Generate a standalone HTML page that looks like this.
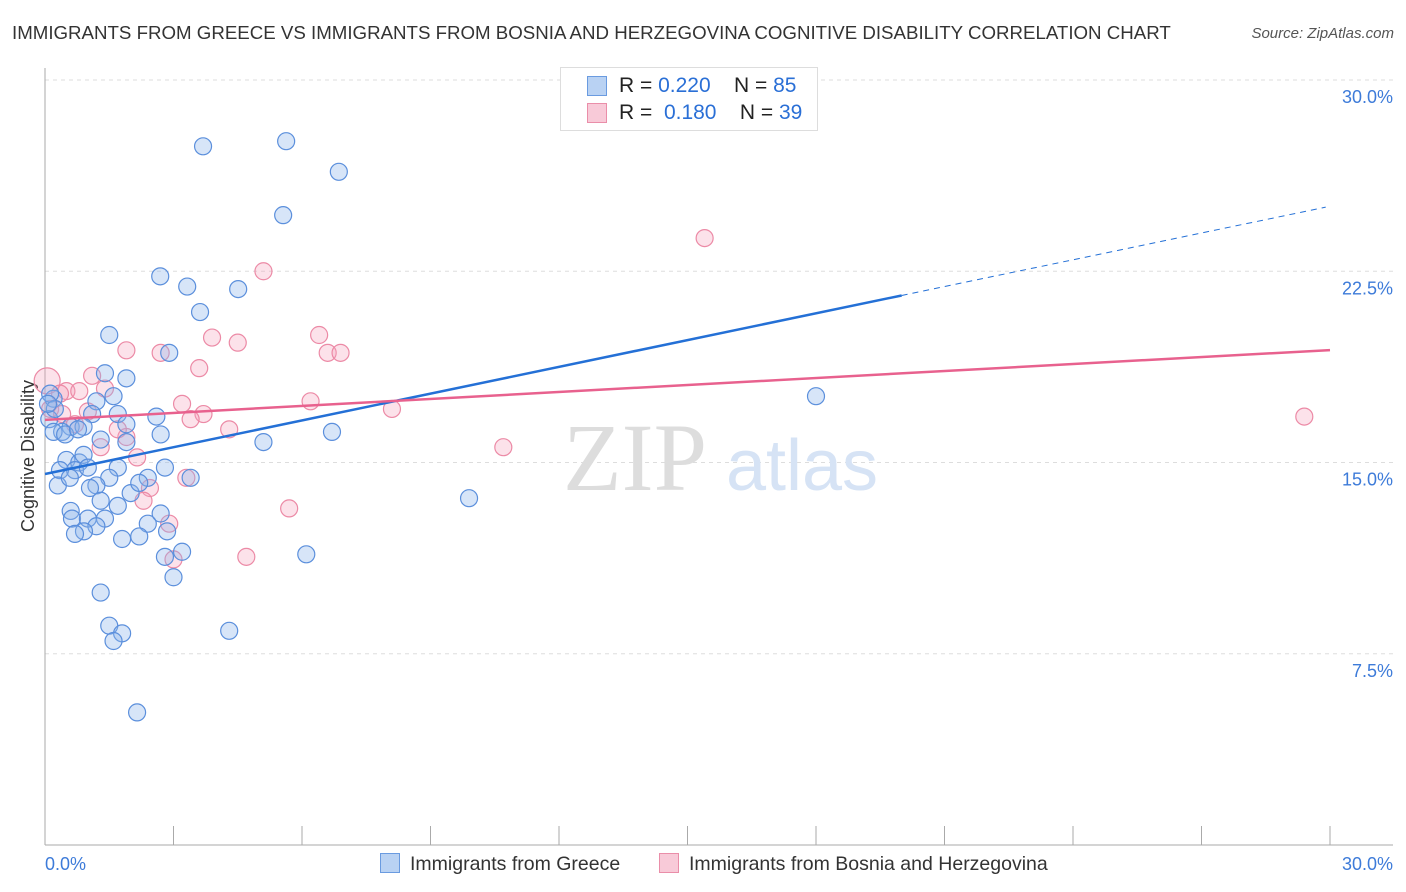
<!DOCTYPE html>
<html><head><meta charset="utf-8"><style>
body{margin:0;background:#fff;font-family:"Liberation Sans",sans-serif;}
#wrap{position:relative;width:1406px;height:892px;overflow:hidden;}
.t{position:absolute;white-space:nowrap;}
</style></head><body>
<div id="wrap">
<div class="t" style="left:12px;top:22px;font-size:18.7px;color:#333;">IMMIGRANTS FROM GREECE VS IMMIGRANTS FROM BOSNIA AND HERZEGOVINA COGNITIVE DISABILITY CORRELATION CHART</div>
<div class="t" style="right:12px;top:25px;font-size:15px;color:#555;font-style:italic;">Source: ZipAtlas.com</div>
<svg id="plot" width="1406" height="892" style="position:absolute;left:0;top:0"></svg>
</div>
<script>
const yTicks=[7.5,15,22.5,30];
const xTickLabels=["0.0%","30.0%"];
const greeceX=[3.69,5.63,6.86,5.56,2.69,3.32,4.51,3.62,1.5,2.9,1.4,1.9,18.0,0.2,1.6,1.2,1.7,2.6,1.1,0.1,1.9,0.6,0.4,0.2,0.9,2.7,1.3,1.9,5.1,6.7,0.5,0.8,0.9,0.7,0.35,0.3,1.0,1.7,2.8,2.4,1.5,3.4,1.2,1.05,2.0,1.3,1.7,9.9,0.6,0.63,1.0,1.4,2.7,2.4,1.2,0.91,0.7,2.85,1.8,2.2,2.8,3.2,6.1,3.0,1.3,1.5,1.8,1.6,4.3,2.15,0.12,0.23,0.07,0.47,0.77,0.58,2.2];
const greeceY=[27.4,27.6,26.4,24.7,22.3,21.9,21.8,20.9,20.0,19.3,18.5,18.3,17.6,17.5,17.6,17.4,16.9,16.8,16.9,16.7,16.5,16.4,16.2,16.2,16.4,16.1,15.9,15.8,15.8,16.2,15.1,15.0,15.3,14.7,14.7,14.1,14.8,14.8,14.8,14.4,14.4,14.4,14.1,14.0,13.8,13.5,13.3,13.6,13.1,12.8,12.8,12.8,13.0,12.6,12.5,12.3,12.2,12.3,12.0,12.1,11.3,11.5,11.4,10.5,9.9,8.6,8.3,8.0,8.4,5.2,17.7,17.1,17.3,16.1,16.3,14.4,14.2];
const bosniaX=[0.05,15.4,5.1,3.9,4.5,6.4,1.9,2.7,6.6,6.9,3.6,1.1,1.4,0.5,0.8,6.2,3.2,3.7,3.4,8.1,29.4,4.3,0.12,0.4,0.7,1.3,1.9,2.15,10.7,1.7,2.45,2.3,3.3,2.9,5.7,4.7,3.0,0.35,1.0];
const bosniaY=[18.2,23.8,22.5,19.9,19.7,20.0,19.4,19.3,19.3,19.3,18.7,18.4,17.9,17.8,17.8,17.4,17.3,16.9,16.7,17.1,16.8,16.3,17.1,16.9,16.5,15.6,16.0,15.2,15.6,16.3,14.0,13.5,14.4,12.6,13.2,11.3,11.2,17.7,17.0];
const trendGreece=[14.55,0.35];
const trendBosnia=[16.67,0.0913];
const X0=45,X1=1330,Y0=845,Y30=80;
const sx=v=>X0+(v/30)*(X1-X0);
const sy=v=>Y0-(v/30)*(Y0-Y30);
const svg=document.getElementById('plot');const NS='http://www.w3.org/2000/svg';
function mk(tag,attrs,parent){const e=document.createElementNS(NS,tag);for(const k in attrs)e.setAttribute(k,attrs[k]);(parent||svg).appendChild(e);return e;}
yTicks.forEach(v=>{
 const g=mk('line',{x1:45,x2:1393,y1:sy(v),y2:sy(v),stroke:'#ddd','stroke-dasharray':'4,4'});
 
 
 const t=mk('text',{x:1393,y:sy(v)+23,'text-anchor':'end','font-size':'18',fill:'#3d7bd9','font-family':'Liberation Sans'});
 t.textContent=v.toFixed(1)+'%';
 
 
});
const ax=mk('line',{x1:45,x2:45,y1:68,y2:845,stroke:'#aaa'});


const bx=mk('line',{x1:45,x2:1393,y1:845,y2:845,stroke:'#aaa'});


for(let i=0;i<=10;i++){const tk=mk('line',{x1:sx(i*3),x2:sx(i*3),y1:826,y2:845,stroke:'#aaa'});
 
 }
[[45,'start',0],[1393,'end',1]].forEach(([x,a,i])=>{const t=mk('text',{x:x,y:870,'text-anchor':a,'font-size':'18',fill:'#3d7bd9','font-family':'Liberation Sans'});t.textContent=xTickLabels[i];
 
 });
const yl=mk('text',{x:0,y:0,transform:'translate(34,456) rotate(-90)','text-anchor':'middle','font-size':'18',fill:'#333','font-family':'Liberation Sans'});yl.textContent='Cognitive Disability';


const w1=mk('text',{x:635,y:490,'text-anchor':'middle','font-size':'96',fill:'#ddd','font-family':'Liberation Serif'});w1.textContent='ZIP';


const w2=mk('text',{x:802,y:490,'text-anchor':'middle','font-size':'72',fill:'#d6e3f5','font-family':'Liberation Sans'});w2.textContent='atlas';


bosniaX.forEach((x,i)=>{const c=mk('circle',{cx:sx(x),cy:sy(bosniaY[i]),r:i==0?13:8.5,fill:'rgba(246,160,185,0.3)',stroke:'#ec8aa6','stroke-width':1.2});
 
 });
greeceX.forEach((x,i)=>{const c=mk('circle',{cx:sx(x),cy:sy(greeceY[i]),r:8.5,fill:'rgba(140,180,235,0.35)',stroke:'#5b8fdc','stroke-width':1.2});
 
 });
const tb=mk('line',{x1:sx(0),y1:sy(trendGreece[0]),x2:sx(20),y2:sy(trendGreece[0]+trendGreece[1]*20),stroke:'#2470d6','stroke-width':2.5});


const tbd=mk('line',{x1:sx(20),y1:sy(trendGreece[0]+trendGreece[1]*20),x2:sx(29.9),y2:sy(trendGreece[0]+trendGreece[1]*29.9),stroke:'#2470d6','stroke-width':1,'stroke-dasharray':'6,5'});


const tp=mk('line',{x1:sx(0),y1:sy(trendBosnia[0]),x2:sx(30),y2:sy(trendBosnia[0]+trendBosnia[1]*30),stroke:'#e8618e','stroke-width':2.5});


</script>
<div style="position:absolute;left:560px;top:67px;width:256px;height:62px;border:1px solid #ddd;background:#fff;font-size:21px;color:#222;">
 <div style="position:absolute;left:26px;top:8px;width:18px;height:18px;background:#b9d2f3;border:1px solid #6a9be0"></div>
 <div class="t" style="left:58px;top:6px">R = <span style="color:#2a6fd6">0.220</span>&nbsp;&nbsp;&nbsp; N = <span style="color:#2a6fd6">85</span></div>
 <div style="position:absolute;left:26px;top:35px;width:18px;height:18px;background:#f8cad8;border:1px solid #ea8ea9"></div>
 <div class="t" style="left:58px;top:33px">R = &nbsp;<span style="color:#2a6fd6">0.180</span>&nbsp;&nbsp;&nbsp; N = <span style="color:#2a6fd6">39</span></div>
</div>
<div style="position:absolute;left:380px;top:853px;font-size:19.5px;color:#333;">
 <span style="display:inline-block;width:18px;height:18px;background:#b9d2f3;border:1px solid #6a9be0;vertical-align:-3px;margin-right:10px"></span>Immigrants from Greece</div>
<div style="position:absolute;left:659px;top:853px;font-size:19.5px;color:#333;">
 <span style="display:inline-block;width:18px;height:18px;background:#f8cad8;border:1px solid #ea8ea9;vertical-align:-3px;margin-right:10px"></span>Immigrants from Bosnia and Herzegovina</div>
</body></html>
